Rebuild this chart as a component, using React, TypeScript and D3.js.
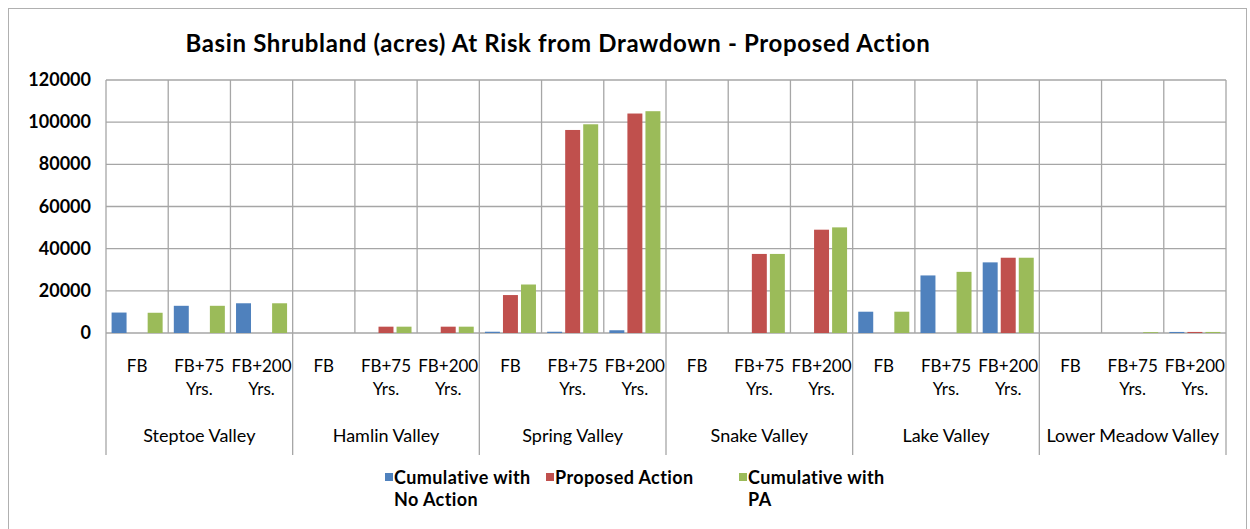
import React, { useEffect, useRef } from 'react';
import * as d3 from 'd3';

const groups = ['Steptoe Valley', 'Hamlin Valley', 'Spring Valley', 'Snake Valley', 'Lake Valley', 'Lower Meadow Valley'];
const periods: string[][] = [['FB'], ['FB+75', 'Yrs.'], ['FB+200', 'Yrs.']];
const seriesNames = ['Cumulative with No Action', 'Proposed Action', 'Cumulative with PA'];
const seriesColors = ['#4F81BD', '#C0504D', '#9BBB59'];
const legendLines: string[][] = [['Cumulative with', 'No Action'], ['Proposed Action'], ['Cumulative with', 'PA']];

// one value per valley x period, in order
const noAction = [9700, 12900, 14100, 0, 0, 0, 600, 600, 1300, 0, 0, 0, 10100, 27300, 33500, 0, 0, 500];
const proposed = [0, 0, 0, 0, 3000, 3000, 18000, 96300, 104100, 0, 37500, 49000, 0, 0, 35700, 0, 0, 500];
const withPA = [9600, 12900, 14100, 0, 3000, 3000, 23000, 99000, 105200, 0, 37500, 50100, 10100, 29000, 35700, 0, 400, 500];
const yTicks = [0, 20000, 40000, 60000, 80000, 100000, 120000];

const W = 1250;
const H = 529;
const FONT = 'Lato, "Open Sans", sans-serif';

const App: React.FC = () => {
  const svgRef = useRef<SVGSVGElement>(null);

  useEffect(() => {
    if (!svgRef.current) return;
    const svg = d3.select(svgRef.current);
    svg.selectAll('*').remove();

    const left = 106, right = 1226, top = 80, bottom = 333, axisBottom = 455;
    const gridColor = '#a6a6a6';

    svg.append('rect').attr('x', 0).attr('y', 0).attr('width', W).attr('height', H).attr('fill', '#fff');
    svg.append('rect')
      .attr('x', 8.5).attr('y', 8.5).attr('width', 1238).attr('height', 530)
      .attr('fill', 'none').attr('stroke', '#b0b0b0').attr('stroke-width', 1);

    svg.append('text')
      .attr('x', 558).attr('y', 52)
      .attr('text-anchor', 'middle')
      .style('font-family', FONT).style('font-size', '24px').style('font-weight', 'bold')
      .style('letter-spacing', '0.65px')
      .attr('fill', '#000')
      .text('Basin Shrubland  (acres) At Risk from Drawdown - Proposed Action');

    const cats = d3.range(groups.length * periods.length);
    const x = d3.scaleBand<number>().domain(cats).range([left, right]).padding(0);
    const inner = d3.scaleBand<number>().domain([0, 1, 2]).range([0, x.bandwidth()]).paddingInner(0.17).paddingOuter(0.31);
    const y = d3.scaleLinear().domain([0, 120000]).range([bottom, top]);

    const g = svg.append('g');

    // horizontal grid
    g.selectAll('line.h').data(yTicks).enter().append('line')
      .attr('x1', left).attr('x2', right)
      .attr('y1', d => y(d)).attr('y2', d => y(d))
      .attr('stroke', gridColor).attr('stroke-width', 1.3);

    // vertical grid at category boundaries
    const bounds = d3.range(cats.length + 1);
    g.selectAll('line.v').data(bounds).enter().append('line')
      .attr('x1', i => (i < cats.length ? x(i)! : right))
      .attr('x2', i => (i < cats.length ? x(i)! : right))
      .attr('y1', top)
      .attr('y2', i => (i % periods.length === 0 ? axisBottom : bottom))
      .attr('stroke', gridColor).attr('stroke-width', 1.3);

    // y tick labels
    g.selectAll('text.yt').data(yTicks).enter().append('text')
      .attr('x', 91).attr('y', d => y(d) + 6)
      .attr('text-anchor', 'end')
      .style('font-family', FONT).style('font-size', '18px').style('font-weight', 'bold')
      .text(d => String(d));

    // bars
    const series = [noAction, proposed, withPA];
    series.forEach((vals, si) => {
      g.selectAll(`rect.s${si}`).data(vals).enter().append('rect')
        .attr('x', (_, i) => x(i)! + inner(si)!)
        .attr('width', inner.bandwidth())
        .attr('y', d => y(d))
        .attr('height', d => y(0) - y(d))
        .attr('fill', seriesColors[si]);
    });

    // period labels
    cats.forEach(i => {
      const lines = periods[i % periods.length];
      const cx = x(i)! + x.bandwidth() / 2;
      lines.forEach((ln, li) => {
        g.append('text')
          .attr('x', cx).attr('y', 372 + li * 23)
          .attr('text-anchor', 'middle')
          .style('font-family', FONT).style('font-size', '17px')
          .text(ln);
      });
    });

    // group labels
    groups.forEach((name, gi) => {
      const x0 = x(gi * periods.length)!;
      const cx = x0 + x.bandwidth() * periods.length / 2;
      g.append('text')
        .attr('x', cx).attr('y', 442)
        .attr('text-anchor', 'middle')
        .style('font-family', FONT).style('font-size', '18px')
        .text(name);
    });

    // legend
    const legendX = [385, 546, 739];
    seriesNames.forEach((_, si) => {
      const lx = legendX[si];
      g.append('rect').attr('x', lx).attr('y', 473).attr('width', 8).attr('height', 8).attr('fill', seriesColors[si]);
      legendLines[si].forEach((ln, li) => {
        g.append('text')
          .attr('x', lx + 9).attr('y', 484 + li * 22)
          .style('font-family', FONT).style('font-size', '18px').style('font-weight', 'bold')
          .style('letter-spacing', '0.4px')
          .text(ln);
      });
    });
  }, []);

  return (
    <div style={{ position: 'absolute', left: 0, top: 0 }}>
      <svg ref={svgRef} width={W} height={H} style={{ display: 'block' }} />
    </div>
  );
};

export default App;
